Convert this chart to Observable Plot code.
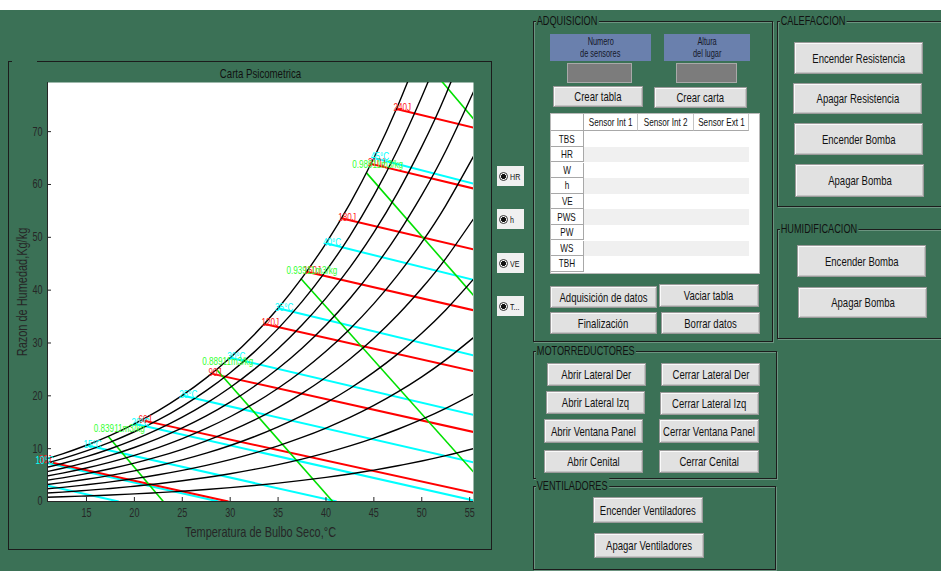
<!DOCTYPE html>
<html><head><meta charset="utf-8">
<script src="https://cdn.jsdelivr.net/npm/d3@7"></script>
<script src="https://cdn.jsdelivr.net/npm/@observablehq/plot@0.6"></script>
<style>
html,body{margin:0;padding:0;background:#fff;}
#app{position:relative;width:941px;height:571px;overflow:hidden;background:#fff;font-family:'Liberation Sans',Arial,sans-serif;color:#111;}
.abs{position:absolute;box-sizing:border-box;}
.bg{left:0;top:10px;width:941px;height:561px;background:#3b7156;}
.frame{border:1px solid #1c1c1c;box-shadow:1px 1px 0 rgba(255,255,255,.25), inset 1px 1px 0 rgba(255,255,255,.25);}
.ftitle{position:absolute;top:-9px;left:2px;background:#3b7156;padding:0 2px 0 1px;font-size:12.4px;line-height:16px;color:#111;white-space:nowrap;transform:scaleX(.74);transform-origin:left center;}
.btn{background:#e1e1e1;border:1px solid #9a9a9a;box-shadow:inset 1px 1px 0 #fafafa, inset -1px -1px 0 #c4c4c4;display:flex;align-items:center;justify-content:center;font-size:12.9px;color:#111;white-space:nowrap;}
.sq{display:inline-block;transform:scaleX(.74);transform-origin:center center;white-space:nowrap;}
.blue{background:#6a80ad;display:flex;flex-direction:column;align-items:center;justify-content:center;font-size:10px;line-height:11.5px;color:#15182a;}
.edit{background:#7c7c7c;border:1px solid #a9a9a9;}
.radio{background:#f0f0f0;font-size:9.6px;display:flex;align-items:center;padding-left:2px;color:#111;}
.radio .sq{transform-origin:left center;}
.dot{display:inline-block;width:9px;height:9px;border-radius:50%;border:1px solid #333;box-sizing:border-box;background:radial-gradient(circle,#111 0 2.2px,#fff 2.8px);margin-right:2px;flex:none;}
.cell{position:absolute;box-sizing:border-box;font-size:11px;display:flex;align-items:center;justify-content:center;white-space:nowrap;color:#111;}
</style>
</head><body>
<div id="app">
  <div class="abs bg"></div>

  <!-- chart panel -->
  <div class="abs" style="left:8px;top:61px;width:1px;height:489px;background:#1c1c1c"></div>
  <div class="abs" style="left:491px;top:61px;width:1px;height:489px;background:#1c1c1c"></div>
  <div class="abs" style="left:8px;top:549px;width:484px;height:1px;background:#1c1c1c"></div>
  <div class="abs" style="left:8px;top:61px;width:4px;height:1px;background:#1c1c1c"></div>
  <div class="abs" style="left:37px;top:61px;width:455px;height:1px;background:#1c1c1c"></div>
  <div class="abs" id="chart" style="left:0;top:62px;width:490px;height:486px"></div>

  <!-- radio buttons -->
  <div class="abs radio" style="left:497px;top:166px;width:27px;height:20px"><span class="dot"></span><span class="sq">HR</span></div>
  <div class="abs radio" style="left:497px;top:209px;width:27px;height:20px"><span class="dot"></span><span class="sq">h</span></div>
  <div class="abs radio" style="left:497px;top:253px;width:27px;height:20px"><span class="dot"></span><span class="sq">VE</span></div>
  <div class="abs radio" style="left:497px;top:296px;width:27px;height:20px"><span class="dot"></span><span class="sq">T...</span></div>

  <!-- ADQUISICION -->
  <div class="abs frame" style="left:533px;top:21px;width:240px;height:321px"><span class="ftitle">ADQUISICION</span></div>
  <div class="abs blue" style="left:550px;top:34px;width:101px;height:27px"><span class="sq">Numero</span><span class="sq">de sensores</span></div>
  <div class="abs blue" style="left:664px;top:34px;width:86px;height:27px"><span class="sq">Altura</span><span class="sq">del lugar</span></div>
  <div class="abs edit" style="left:567px;top:63px;width:65px;height:20px"></div>
  <div class="abs edit" style="left:676px;top:63px;width:61px;height:20px"></div>
  <div class="abs btn" style="left:553px;top:86px;width:90px;height:21px">Crear tabla</div>
  <div class="abs btn" style="left:654px;top:87px;width:93px;height:21px">Crear carta</div>
  <div class="abs" id="table" style="left:550px;top:113px;width:210px;height:161px;background:#fff;border:1px solid #b8b8b8"></div>
  <div class="abs btn" style="left:550px;top:286px;width:107px;height:22px">Adquisición de datos</div>
  <div class="abs btn" style="left:659px;top:284px;width:100px;height:23px">Vaciar tabla</div>
  <div class="abs btn" style="left:550px;top:312px;width:107px;height:22px">Finalización</div>
  <div class="abs btn" style="left:661px;top:312px;width:99px;height:22px">Borrar datos</div>

  <!-- CALEFACCION -->
  <div class="abs frame" style="left:777px;top:21px;width:170px;height:186px"><span class="ftitle">CALEFACCION</span></div>
  <div class="abs btn" style="left:794px;top:42px;width:129px;height:32px">Encender Resistencia</div>
  <div class="abs btn" style="left:793px;top:83px;width:129px;height:31px">Apagar Resistencia</div>
  <div class="abs btn" style="left:794px;top:123px;width:129px;height:32px">Encender Bomba</div>
  <div class="abs btn" style="left:795px;top:164px;width:129px;height:33px">Apagar Bomba</div>

  <!-- HUMIDIFICACION -->
  <div class="abs frame" style="left:777px;top:229px;width:170px;height:110px"><span class="ftitle">HUMIDIFICACION</span></div>
  <div class="abs btn" style="left:797px;top:245px;width:129px;height:32px">Encender Bomba</div>
  <div class="abs btn" style="left:798px;top:287px;width:129px;height:31px">Apagar Bomba</div>

  <!-- MOTORREDUCTORES -->
  <div class="abs frame" style="left:533px;top:351px;width:244px;height:128px"><span class="ftitle">MOTORREDUCTORES</span></div>
  <div class="abs btn" style="left:547px;top:363px;width:99px;height:23px">Abrir Lateral Der</div>
  <div class="abs btn" style="left:661px;top:363px;width:99px;height:23px">Cerrar Lateral Der</div>
  <div class="abs btn" style="left:546px;top:391px;width:99px;height:23px">Abrir Lateral Izq</div>
  <div class="abs btn" style="left:660px;top:392px;width:99px;height:23px">Cerrar Lateral Izq</div>
  <div class="abs btn" style="left:544px;top:419px;width:99px;height:24px">Abrir Ventana Panel</div>
  <div class="abs btn" style="left:659px;top:419px;width:100px;height:24px">Cerrar Ventana Panel</div>
  <div class="abs btn" style="left:544px;top:450px;width:99px;height:23px">Abrir Cenital</div>
  <div class="abs btn" style="left:659px;top:450px;width:100px;height:23px">Cerrar Cenital</div>

  <!-- VENTILADORES -->
  <div class="abs frame" style="left:533px;top:486px;width:243px;height:84px"><span class="ftitle">VENTILADORES</span></div>
  <div class="abs btn" style="left:593px;top:497px;width:110px;height:26px">Encender Ventiladores</div>
  <div class="abs btn" style="left:594px;top:533px;width:110px;height:25px">Apagar Ventiladores</div>
</div>

<script>
// ---------- chart data ----------
const xDomain = [10.93, 55.4];
const yDomain = [0, 79.3];
const xTicks = [15, 20, 25, 30, 35, 40, 45, 50, 55];
const yTicks = [0, 10, 20, 30, 40, 50, 60, 70];

// relative humidity curves (black), humidity ratio g/kg at each dry-bulb temperature
const tempGrid = [10.5, 12.5, 15, 17.5, 20, 22.5, 25, 27.5, 30, 32.5, 35, 37.5, 40, 42.5, 45, 47.5, 50, 52.5, 55.5];
const rhLevels = [10, 20, 30, 40, 50, 60, 70, 80, 90, 100];
const rh10  = [0.78, 0.89, 1.05, 1.23, 1.44, 1.68, 1.95, 2.26, 2.62, 3.02, 3.47, 3.99, 4.56, 5.21, 5.94, 6.76, 7.67, 8.68, 10.06];
const rh20  = [1.56, 1.78, 2.10, 2.47, 2.89, 3.37, 3.92, 4.54, 5.26, 6.07, 6.99, 8.03, 9.20, 10.52, 12.00, 13.67, 15.53, 17.61, 20.44];
const rh30  = [2.35, 2.68, 3.16, 3.71, 4.34, 5.06, 5.89, 6.84, 7.92, 9.15, 10.54, 12.12, 13.90, 15.91, 18.18, 20.73, 23.60, 26.80, 31.17];
const rh40  = [3.13, 3.58, 4.22, 4.95, 5.80, 6.77, 7.88, 9.15, 10.60, 12.25, 14.13, 16.26, 18.67, 21.39, 24.48, 27.94, 31.86, 36.25, 42.27];
const rh50  = [3.92, 4.48, 5.28, 6.20, 7.26, 8.48, 9.88, 11.48, 13.31, 15.39, 17.76, 20.46, 23.51, 26.97, 30.90, 35.33, 40.35, 45.98, 53.75];
const rh60  = [4.71, 5.38, 6.34, 7.46, 8.74, 10.21, 11.90, 13.83, 16.04, 18.56, 21.44, 24.71, 28.43, 32.65, 37.45, 42.88, 49.05, 56.01, 65.64];
const rh70  = [5.51, 6.29, 7.41, 8.72, 10.22, 11.94, 13.92, 16.19, 18.80, 21.77, 25.16, 29.02, 33.42, 38.43, 44.13, 50.61, 57.99, 66.34, 77.95];
const rh80  = [6.30, 7.20, 8.49, 9.98, 11.70, 13.68, 15.96, 18.58, 21.58, 25.00, 28.92, 33.39, 38.49, 44.31, 50.95, 58.52, 67.17, 76.99, 90.71];
const rh90  = [7.10, 8.11, 9.57, 11.25, 13.20, 15.43, 18.02, 20.98, 24.38, 28.27, 32.72, 37.82, 43.64, 50.29, 57.92, 66.62, 76.60, 87.97, 103.9];
const rh100 = [7.90, 9.02, 10.65, 12.52, 14.70, 17.20, 20.08, 23.40, 27.21, 31.57, 36.57, 42.31, 48.87, 56.39, 65.02, 74.91, 86.29, 99.3, 117.7];

// enthalpy lines (red)
const enthalpyLabels = ["30J", "60J", "90J", "120J", "150J", "180J", "210J", "240J"];
const enthalpySatT = [10.3, 20.75, 28.05, 33.57, 37.97, 41.6, 44.7, 47.35];
const enthalpySatW = [7.80, 15.4, 24.2, 33.6, 43.5, 53.6, 63.9, 74.3];
const enthalpyEndT = [29.82, 55.5, 55.5, 55.5, 55.5, 55.5, 55.5, 55.5];
const enthalpyEndW = [0, 1.60, 13.12, 24.64, 36.16, 47.68, 59.20, 70.72];

// wet-bulb lines (cyan)
const wetBulbLabels = ["", "10°C", "15°C", "20°C", "25°C", "30°C", "35°C", "40°C", "45°C"];
const wetBulbSatT = [5, 10, 15, 20, 25, 30, 35, 40, 45];
const wetBulbSatW = [5.40, 7.63, 10.65, 14.70, 20.08, 27.21, 36.57, 48.87, 65.02];
const wetBulbEndT = [18.36, 28.79, 41.11, 55.5, 55.5, 55.5, 55.5, 55.5, 55.5];
const wetBulbEndW = [0, 0, 0, 0.15, 7.35, 16.34, 27.61, 41.89, 60.12];

// specific volume lines (green)
const volumeLabels = ["0.83911m3/kg", "0.88911m3/kg", "0.93911m3/kg", "0.98911m3/kg", ""];
const volumeSatT = [17.26, 28.58, 37.37, 44.23, 49.67];
const volumeSatW = [12.33, 25.0, 42.2, 62.2, 84.7];
const volumeEndT = [23.02, 40.7, 55.5, 55.5, 55.5];
const volumeEndW = [0, 0, 5.39, 38.8, 72.2];
const volumeLabelT = [15.76, 27.08, 35.87, 42.73, 48.2];
const volumeLabelW = [13.83, 26.5, 43.7, 63.7, 86.2];

const chartTitle = "Carta Psicometrica";
const xLabel = "Temperatura de Bulbo Seco,°C";
const yLabel = "Razon de Humedad,Kg/kg";

// table texts
const tableCols = ["Sensor Int 1", "Sensor Int 2", "Sensor Ext 1"];
const tableRows = ["TBS", "HR", "W", "h", "VE", "PWS", "PW", "WS", "TBH"];

// ---------- build tables for the library ----------
const rhSeries = [rh10, rh20, rh30, rh40, rh50, rh60, rh70, rh80, rh90, rh100];
const rhTable = rhSeries.flatMap((ws, i) => ws.map((w, j) => ({T: tempGrid[j], W: w, rh: rhLevels[i]})));
const mk = (labels, t1, w1, t2, w2) => labels.map((l, i) => ({label: l, t1: t1[i], w1: w1[i], t2: t2[i], w2: w2[i]}));
const enthalpy = mk(enthalpyLabels, enthalpySatT, enthalpySatW, enthalpyEndT, enthalpyEndW);
const wetBulb = mk(wetBulbLabels, wetBulbSatT, wetBulbSatW, wetBulbEndT, wetBulbEndW);
const volume = mk(volumeLabels, volumeSatT, volumeSatW, volumeEndT, volumeEndW);
const volumeText = volumeLabels.map((l, i) => ({label: l, t: volumeLabelT[i], w: volumeLabelW[i]}));

const FONT = "'Liberation Sans',Arial,sans-serif";
const AX = "#262626";
const SQUEEZE = 0.74;

const chart = Plot.plot({
  width: 490, height: 486,
  marginLeft: 47, marginRight: 17, marginTop: 20, marginBottom: 47,
  x: {domain: xDomain},
  y: {domain: yDomain},
  style: {background: "transparent", fontFamily: FONT, fontSize: "12px", color: AX, overflow: "visible"},
  marks: [
    Plot.frame({fill: "white", stroke: null}),
    Plot.link(wetBulb, {x1: "t1", y1: "w1", x2: "t2", y2: "w2", stroke: "#00ffff", strokeWidth: 2, clip: true}),
    Plot.link(enthalpy, {x1: "t1", y1: "w1", x2: "t2", y2: "w2", stroke: "#ff0000", strokeWidth: 2, clip: true}),
    Plot.link(volume, {x1: "t1", y1: "w1", x2: "t2", y2: "w2", stroke: "#00e000", strokeWidth: 1.6, clip: true}),
    Plot.line(rhTable, {x: "T", y: "W", z: "rh", stroke: "#000", strokeWidth: 1.4, curve: "natural", clip: true}),
    Plot.text(enthalpy, {x: "t1", y: "w1", text: "label", fill: "#ff2020", textAnchor: "start", dx: -3, dy: -1, fontSize: 11}),
    Plot.text(wetBulb, {x: "t1", y: "w1", text: "label", fill: "#00ffff", textAnchor: "start", dx: -3, dy: -1, fontSize: 11}),
    Plot.text(volumeText, {x: "t", y: "w", text: "label", fill: "#33ff33", textAnchor: "start", fontSize: 11}),
    Plot.ruleY([yDomain[0]], {stroke: AX}),
    Plot.ruleX([xDomain[0]], {stroke: AX}),
    Plot.axisX({ticks: xTicks, tickSize: -4, tickPadding: 11, label: null, stroke: AX, fill: AX, fontSize: 12.2}),
    Plot.axisY({ticks: yTicks, tickSize: -4, tickPadding: 9, label: null, stroke: AX, fill: AX, fontSize: 12.2}),
    Plot.text([xLabel], {frameAnchor: "bottom", textAnchor: "middle", lineAnchor: "middle", dy: 31, fill: AX, fontSize: 14.8}),
    Plot.text([yLabel], {frameAnchor: "left", textAnchor: "middle", lineAnchor: "middle", rotate: -90, dx: -25, fill: AX, fontSize: 14.8}),
    Plot.text([chartTitle], {frameAnchor: "top", textAnchor: "middle", lineAnchor: "middle", dy: -9, fill: "#111", fontSize: 13})
  ]
});
document.getElementById("chart").appendChild(chart);
// the reference uses a condensed face: compress every svg text horizontally
chart.querySelectorAll("text").forEach(t => {
  const len = t.getComputedTextLength();
  if (len > 0) {
    t.setAttribute("textLength", (len * SQUEEZE).toFixed(2));
    t.setAttribute("lengthAdjust", "spacingAndGlyphs");
  }
});

// condensed text in the GUI buttons
document.querySelectorAll(".btn").forEach(b => {
  const s = document.createElement("span");
  s.className = "sq";
  s.textContent = b.textContent;
  b.textContent = "";
  b.appendChild(s);
});

// ---------- uitable ----------
const tbl = document.getElementById("table");
const colX = [0, 32.7, 87.3, 142.7, 198.3];
const headH = 17.3, rowH = 15.6;
function cell(x, y, w, h, txt, style) {
  const d = document.createElement("div");
  d.className = "cell";
  d.style.cssText = `left:${x}px;top:${y}px;width:${w}px;height:${h}px;` + style;
  if (txt) {
    const s = document.createElement("span");
    s.className = "sq";
    s.textContent = txt;
    d.appendChild(s);
  }
  tbl.appendChild(d);
}
cell(0, 0, colX[1], headH, "", "border-right:1px solid #a8a8a8;border-bottom:1px solid #a8a8a8;background:#fff");
tableCols.forEach((c, i) => cell(colX[i + 1], 0, colX[i + 2] - colX[i + 1], headH, c, "border-right:1px solid #c4c4c4;border-bottom:1px solid #a8a8a8;background:#fff"));
tableRows.forEach((r, i) => {
  const y = headH + i * rowH;
  cell(colX[1], y, colX[4] - colX[1], rowH, "", `background:${i % 2 ? "#f0f0f0" : "#fff"}`);
  cell(0, y, colX[1], rowH, r, "border-right:1px solid #a8a8a8;border-bottom:1px solid #a8a8a8;background:#fff");
});
</script>
</body></html>
